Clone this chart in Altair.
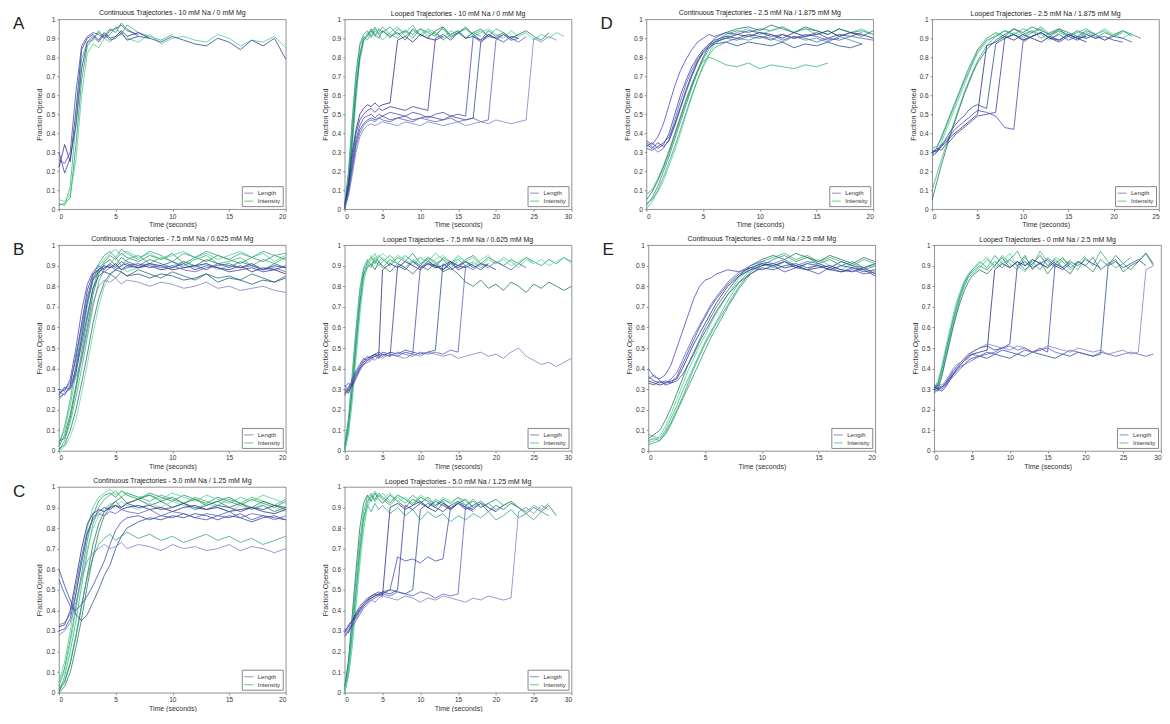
import altair as alt
import pandas as pd

FONT = "Liberation Sans"

# time grids (seconds)
TC = [0, 0.5, 1, 1.5, 2, 2.5, 3, 3.5, 4, 4.5, 5, 5.5, 6, 7, 8, 9, 10, 11, 12, 13, 14, 15, 16, 17, 18, 19, 20]
TL = [0, 0.5, 1, 1.5, 2, 2.5, 3, 3.5, 4, 4.5, 5, 6, 7, 8, 9, 10, 11, 12, 13, 14, 15, 16, 17, 18, 19, 20,
      21, 22, 23, 24, 25, 26, 27, 28, 29, 30]

Y_TICKS = [0, 0.1, 0.2, 0.3, 0.4, 0.5, 0.6, 0.7, 0.8, 0.9, 1]
LEGEND_LABELS = ["Length", "Intensity"]

# ---------- values (percent of opening) ----------
A_CONT_LEN = [
    [22, 34, 25, 52, 84, 90, 92, 89, 93, 90, 91, 94, 91, 93, 90],
    [30, 19, 27, 44, 74, 88, 91, 88, 92, 89, 90, 93, 89, 91, 90, 88, 91, 89, 87, 86, 90, 88, 84, 89, 86, 90, 79],
    [26, 24, 30, 62, 86, 91, 93, 92, 90, 94, 95, 97, 94, 92],
]
A_CONT_INT = [
    [2, 3, 6, 34, 68, 86, 90, 93, 91, 95, 93, 98, 95, 91],
    [3, 2, 12, 46, 79, 88, 89, 94, 90, 92, 96, 92, 97, 93, 91, 89, 92],
    [5, 4, 8, 26, 60, 82, 87, 85, 90, 88, 91, 92, 90, 88, 92, 87, 90, 91, 89, 88, 92, 90, 86, 89, 88, 91, 85],
]
B_CONT_LEN = [
    [28, 30, 33, 45, 62, 78, 86, 88, 90, 89, 91, 88, 90, 89, 91, 90, 88, 89, 90, 91, 89, 88, 90, 87, 89, 88, 86],
    [26, 28, 31, 40, 55, 72, 83, 87, 89, 90, 88, 90, 91, 89, 90, 88, 89, 91, 88, 90, 89, 87, 88, 89, 87, 88, 90],
    [30, 29, 35, 50, 68, 81, 87, 90, 88, 91, 89, 92, 90, 91, 89, 90, 92, 89, 90, 88, 91, 90, 89, 91, 88, 90, 89],
    [27, 31, 30, 38, 52, 66, 79, 85, 87, 86, 88, 87, 85, 86, 84, 86, 85, 83, 84, 86, 82, 84, 83, 81, 83, 82, 84],
    [29, 27, 32, 47, 60, 75, 84, 88, 87, 89, 90, 88, 89, 90, 91, 89, 90, 88, 87, 89, 90, 91, 89, 90, 88, 89, 87],
    [25, 28, 30, 36, 44, 58, 72, 80, 83, 82, 84, 81, 83, 82, 80, 82, 81, 79, 80, 82, 79, 80, 78, 79, 80, 78, 77],
]
B_CONT_INT = [
    [2, 8, 18, 32, 48, 64, 79, 88, 92, 95, 93, 96, 94, 92, 95, 93, 96, 91, 94, 92, 95, 93, 91, 94, 92, 95, 93],
    [0, 5, 14, 26, 40, 55, 70, 82, 89, 91, 94, 90, 93, 95, 91, 94, 92, 90, 93, 95, 91, 92, 94, 90, 93, 91, 94],
    [4, 10, 22, 38, 54, 70, 83, 90, 93, 96, 98, 95, 97, 94, 96, 93, 95, 97, 94, 96, 93, 95, 97, 94, 96, 92, 95],
    [1, 3, 10, 20, 33, 47, 62, 74, 82, 86, 84, 87, 85, 88, 86, 84, 87, 85, 83, 86, 84, 85, 83, 86, 84, 82, 85],
    [3, 12, 25, 42, 58, 73, 85, 91, 95, 97, 94, 98, 96, 93, 97, 95, 92, 96, 94, 97, 95, 93, 96, 94, 97, 95, 96],
    [0, 2, 7, 15, 28, 42, 57, 70, 80, 85, 88, 90, 87, 89, 91, 88, 90, 92, 89, 91, 88, 90, 89, 91, 88, 90, 89],
    [5, 6, 16, 30, 45, 60, 76, 86, 91, 93, 90, 94, 92, 90, 93, 91, 89, 92, 90, 93, 91, 89, 92, 90, 88, 91, 89],
]
C_CONT_LEN = [
    [32, 33, 40, 55, 70, 82, 87, 89, 88, 90, 91, 89, 90, 91, 89, 90, 88, 90, 91, 89, 90, 88, 89, 90, 88, 87, 89],
    [30, 31, 36, 48, 63, 77, 85, 88, 90, 89, 91, 90, 92, 90, 91, 89, 90, 92, 90, 89, 91, 90, 88, 90, 89, 91, 90],
    [55, 48, 42, 40, 43, 47, 52, 58, 64, 72, 79, 83, 85, 86, 84, 86, 85, 87, 85, 84, 86, 85, 87, 84, 86, 85, 84],
    [60, 52, 45, 38, 35, 38, 44, 50, 57, 62, 70, 76, 80, 83, 85, 84, 86, 85, 87, 86, 84, 86, 85, 83, 85, 86, 84],
    [33, 34, 38, 52, 66, 78, 84, 87, 86, 88, 87, 89, 88, 87, 89, 86, 88, 87, 85, 87, 86, 88, 85, 87, 86, 84, 86],
    [28, 30, 34, 44, 56, 64, 68, 70, 72, 70, 71, 73, 70, 72, 71, 69, 72, 70, 71, 69, 70, 72, 69, 71, 70, 68, 70],
]
C_CONT_INT = [
    [3, 12, 26, 42, 58, 74, 86, 93, 96, 97, 95, 98, 96, 94, 97, 95, 93, 96, 94, 92, 95, 93, 91, 94, 92, 90, 93],
    [0, 8, 20, 35, 52, 68, 82, 90, 94, 96, 98, 95, 97, 95, 93, 96, 94, 92, 95, 93, 91, 94, 92, 95, 93, 91, 94],
    [5, 15, 30, 48, 65, 80, 90, 95, 97, 99, 96, 98, 97, 95, 96, 94, 97, 95, 93, 96, 94, 92, 95, 93, 96, 94, 92],
    [1, 5, 14, 27, 42, 57, 72, 82, 88, 91, 93, 90, 92, 94, 91, 93, 90, 92, 89, 91, 93, 90, 92, 89, 91, 88, 90],
    [2, 6, 15, 28, 43, 56, 66, 72, 75, 77, 74, 76, 78, 75, 77, 74, 76, 73, 75, 77, 74, 76, 73, 75, 72, 74, 76],
    [4, 10, 24, 40, 56, 70, 80, 86, 89, 92, 90, 93, 91, 89, 92, 90, 93, 91, 89, 92, 90, 88, 91, 89, 92, 90, 88],
    [0, 3, 10, 22, 36, 52, 66, 78, 86, 90, 93, 95, 92, 94, 96, 93, 95, 92, 94, 91, 93, 95, 92, 90, 93, 91, 89],
]
D_CONT_LEN = [
    [34, 32, 35, 33, 36, 44, 53, 62, 70, 77, 83, 86, 88, 90, 92, 91, 93, 92, 90, 93, 91, 92, 94, 91, 93, 92, 90],
    [33, 35, 32, 34, 40, 50, 60, 68, 75, 80, 84, 87, 89, 91, 90, 92, 91, 89, 92, 90, 91, 93, 90, 92, 91, 93],
    [36, 34, 38, 45, 55, 65, 73, 79, 84, 88, 90, 92, 91, 93, 92, 94, 93, 91, 92, 90, 92, 91, 89, 90],
    [32, 31, 33, 35, 38, 45, 54, 63, 71, 78, 82, 85, 87, 88, 86, 88, 87, 86, 88, 85, 87, 86, 88, 86, 85, 87],
    [35, 33, 30, 32, 37, 47, 57, 66, 73, 79, 83, 86, 88, 90, 89, 91, 90, 92, 89, 91, 90, 88, 90, 89, 91, 90, 89],
]
D_CONT_INT = [
    [2, 6, 12, 20, 28, 37, 46, 55, 64, 72, 79, 84, 88, 92, 94, 93, 95, 94, 96, 93, 95, 94, 92, 95, 93, 94, 92],
    [8, 10, 16, 23, 31, 40, 49, 58, 66, 73, 78, 80, 79, 76, 75, 77, 74, 76, 75, 74, 76, 75, 77],
    [0, 4, 9, 15, 23, 31, 40, 50, 59, 68, 76, 82, 87, 91, 93, 95, 92, 94, 96, 93, 95, 92, 94, 91, 93, 95, 92],
    [5, 9, 15, 22, 30, 39, 48, 57, 65, 73, 80, 86, 90, 93, 95, 96, 94, 97, 95, 93, 96, 94, 92, 95, 93, 91, 94],
    [3, 5, 10, 17, 25, 33, 42, 51, 60, 68, 75, 81, 85, 88, 90, 89, 91, 90, 88, 91, 89, 90, 88, 91, 89, 87],
]
E_CONT_LEN = [
    [34, 33, 32, 33, 34, 35, 40, 46, 52, 57, 62, 67, 72, 80, 85, 88, 90, 91, 89, 90, 88, 89, 90, 88, 87, 89, 86],
    [36, 34, 33, 34, 33, 36, 42, 48, 54, 60, 65, 70, 74, 81, 86, 89, 91, 90, 92, 89, 91, 90, 88, 90, 89, 87, 88],
    [40, 36, 35, 37, 42, 50, 58, 66, 74, 80, 83, 84, 86, 88, 87, 89, 88, 90, 87, 89, 88, 86, 89, 87, 88, 86, 87],
    [33, 32, 34, 32, 33, 34, 37, 42, 47, 53, 58, 63, 68, 76, 82, 86, 89, 88, 90, 91, 89, 90, 88, 87, 89, 88, 85],
    [35, 37, 34, 33, 35, 38, 44, 50, 56, 61, 66, 71, 75, 82, 87, 90, 92, 91, 93, 90, 92, 91, 89, 92, 90, 89, 91],
]
E_CONT_INT = [
    [5, 6, 5, 8, 13, 19, 25, 31, 37, 43, 49, 55, 60, 70, 79, 86, 90, 93, 95, 92, 94, 91, 93, 90, 92, 89, 91],
    [8, 7, 6, 10, 16, 22, 29, 35, 41, 47, 53, 58, 63, 73, 82, 88, 92, 94, 96, 93, 95, 92, 94, 92, 90, 93, 91],
    [4, 5, 7, 12, 18, 25, 32, 39, 45, 51, 56, 62, 67, 76, 84, 89, 91, 90, 92, 89, 91, 93, 90, 88, 91, 89, 90],
    [6, 8, 10, 15, 21, 28, 35, 42, 48, 54, 60, 65, 70, 78, 85, 90, 93, 95, 93, 96, 94, 92, 95, 93, 91, 94, 92],
    [3, 4, 5, 9, 14, 20, 26, 33, 40, 46, 52, 57, 62, 71, 80, 87, 91, 89, 92, 90, 88, 91, 89, 92, 90, 88, 90],
]

A_LOOP_LEN = [
    [2, 14, 30, 42, 50, 53, 55, 54, 56, 54, 55, 56, 89, 91, 88, 92, 90, 89, 91],
    [0, 12, 27, 40, 47, 50, 52, 53, 51, 53, 52, 54, 53, 52, 54, 53, 52, 90, 92, 89, 93, 90, 91, 88, 92, 90],
    [1, 10, 24, 37, 44, 48, 49, 50, 48, 50, 49, 51, 50, 49, 51, 50, 48, 50, 51, 49, 50, 49, 91, 89, 92, 90, 88, 91, 90],
    [0, 9, 22, 35, 42, 45, 47, 48, 47, 48, 49, 47, 48, 49, 47, 48, 49, 48, 47, 49, 48, 47, 48, 88, 91, 90, 92, 89, 90],
    [1, 8, 20, 33, 40, 44, 46, 47, 46, 48, 47, 46, 48, 47, 46, 48, 47, 46, 47, 48, 46, 47, 48, 46, 47, 89, 92, 90, 88, 91],
    [0, 7, 18, 30, 38, 42, 44, 45, 44, 45, 46, 45, 44, 46, 45, 44, 46, 45, 44, 45, 46, 44, 45, 46, 45, 47, 46, 45, 46, 47, 90, 88, 91, 89],
]
A_LOOP_INT = [
    [0, 15, 40, 65, 82, 90, 92, 94, 91, 95, 93, 96, 92, 94, 90, 95, 93, 91, 96, 92, 94, 90, 93, 95, 91],
    [2, 18, 45, 70, 86, 91, 89, 93, 96, 92, 94, 90, 95, 93, 97, 91, 94, 92, 95, 90, 93, 96, 92, 94, 91, 95, 93, 90, 92],
    [0, 10, 32, 58, 78, 88, 93, 90, 94, 92, 89, 93, 96, 91, 94, 92, 95, 93, 90, 94, 92, 96, 91, 93, 95, 92, 90, 94, 91, 93, 89, 92, 90, 93, 91],
    [1, 12, 36, 62, 80, 89, 91, 95, 92, 90, 94, 91, 93, 89, 95, 92, 90, 94, 96, 91, 93, 95, 92, 89, 94, 91, 93, 90, 92, 94, 91, 89, 93],
    [3, 20, 48, 72, 87, 92, 94, 91, 95, 93, 96, 92, 90, 94, 92, 95, 91, 93, 89, 92, 94, 90, 93, 91],
]
B_LOOP_LEN = [
    [30, 28, 33, 37, 40, 43, 45, 46, 47, 46, 88, 91, 89, 92, 90, 88, 91, 89, 90, 92, 88, 90],
    [28, 31, 34, 38, 41, 44, 46, 45, 47, 48, 47, 46, 90, 88, 92, 89, 91, 90, 88, 92, 90, 89, 91],
    [32, 29, 35, 39, 42, 45, 44, 46, 47, 45, 48, 47, 46, 48, 47, 89, 92, 90, 88, 91, 89, 92, 90, 88, 91],
    [27, 30, 32, 36, 40, 42, 44, 45, 46, 47, 46, 48, 47, 49, 48, 47, 48, 49, 91, 88, 90, 92, 89, 91, 90, 88],
    [31, 33, 31, 35, 39, 42, 43, 44, 46, 45, 47, 46, 48, 47, 46, 48, 47, 48, 47, 49, 48, 90, 88, 91, 89, 92, 90, 88, 91, 89],
    [29, 30, 34, 37, 40, 42, 44, 45, 44, 46, 45, 47, 46, 45, 47, 46, 48, 47, 46, 47, 45, 46, 47, 48, 46, 47, 45, 48, 50, 46, 44, 42, 43, 41, 43, 45],
]
B_LOOP_INT = [
    [0, 10, 28, 50, 70, 85, 92, 94, 91, 95, 93, 90, 94, 92, 96, 91, 93, 89, 94, 92, 90, 93, 95, 91, 94, 92, 90, 93, 91, 94, 92, 90, 93, 91, 94, 92],
    [2, 14, 34, 56, 76, 88, 91, 89, 93, 90, 92, 95, 91, 89, 93, 90, 94, 92, 88, 91, 93, 90, 92, 89, 91],
    [0, 8, 24, 45, 66, 82, 90, 93, 96, 92, 94, 91, 95, 93, 90, 94, 92, 96, 93, 91, 95, 92, 94, 90, 93, 91, 94, 92, 89, 93, 91],
    [1, 12, 30, 52, 72, 86, 89, 91, 88, 92, 90, 87, 91, 89, 86, 90, 88, 91, 87, 89, 86, 82, 80, 83, 79, 81, 78, 82, 80, 77, 81, 79, 82, 80, 78, 80],
    [3, 16, 38, 60, 79, 89, 93, 90, 94, 92, 89, 93, 91, 95, 92, 90, 94, 91, 93, 89, 92],
    [0, 9, 26, 48, 68, 84, 91, 95, 92, 94, 96, 93, 91, 95, 92, 94, 90, 93, 95, 91, 94, 92, 90, 93, 95, 91, 93, 90, 92, 94, 91, 93, 90, 92, 94, 91],
]
C_LOOP_LEN = [
    [30, 32, 35, 38, 41, 43, 45, 46, 47, 48, 47, 90, 92, 89, 91, 93, 90, 88, 92, 90],
    [28, 30, 33, 37, 40, 42, 44, 46, 47, 48, 49, 48, 50, 91, 89, 92, 90, 93, 91, 89, 92, 90, 88],
    [31, 29, 34, 37, 40, 43, 45, 47, 48, 47, 49, 50, 66, 64, 65, 63, 66, 64, 65, 90, 92, 89, 91, 93, 90, 88],
    [29, 33, 35, 39, 42, 44, 46, 47, 48, 49, 48, 50, 49, 48, 50, 89, 92, 90, 88, 91, 93, 90, 89],
    [27, 30, 32, 35, 38, 41, 43, 45, 46, 47, 48, 47, 49, 48, 47, 49, 48, 46, 48, 47, 48, 91, 89, 92, 90, 88, 91],
    [30, 31, 34, 36, 39, 42, 44, 45, 44, 46, 47, 46, 45, 47, 46, 44, 46, 45, 47, 46, 45, 44, 46, 45, 47, 46, 45, 46, 88, 90, 87, 91, 89],
]
C_LOOP_INT = [
    [0, 10, 28, 48, 68, 84, 93, 96, 94, 97, 95, 92, 96, 94, 91, 95, 93, 90, 94, 92, 95, 91, 93, 90, 92, 94, 91, 93, 90],
    [2, 14, 34, 55, 74, 88, 95, 97, 93, 96, 94, 91, 95, 92, 96, 93, 90, 94, 92, 89, 93, 91, 94, 90, 92, 89, 91, 93, 90, 88, 91, 89, 92],
    [0, 8, 22, 42, 62, 79, 90, 95, 98, 95, 97, 93, 96, 94, 92, 95, 93, 91, 94, 92, 95, 93, 90],
    [3, 16, 38, 60, 80, 92, 96, 93, 97, 94, 92, 96, 93, 90, 94, 92, 95, 91, 93, 89, 92, 94, 90, 92, 88, 91, 89, 92, 90, 87, 90, 88, 91, 86],
    [1, 12, 30, 50, 70, 85, 91, 88, 92, 89, 91, 87, 90, 86, 89, 84, 88, 85, 87, 83, 86, 84, 87, 85, 88, 84, 86, 89, 85, 87, 84, 88, 86],
    [0, 9, 25, 45, 65, 82, 92, 95, 93, 96, 94, 97, 93, 95, 92, 96, 94, 91, 95, 93],
]
D_LOOP_LEN = [
    [30, 31, 33, 35, 38, 40, 42, 44, 46, 48, 50, 86, 88, 91, 89, 92, 90, 88, 91, 89, 92, 90, 88],
    [29, 32, 31, 34, 36, 39, 41, 43, 45, 47, 49, 50, 51, 90, 92, 89, 91, 93, 90, 88, 91, 89, 92, 90, 91, 89, 88],
    [31, 30, 34, 36, 39, 42, 44, 46, 48, 50, 52, 51, 49, 43, 42, 88, 91, 93, 90, 92, 89, 91, 90, 92, 89, 91, 90, 88],
    [28, 30, 33, 37, 41, 44, 47, 49, 52, 54, 55, 53, 87, 90, 92, 89, 91, 93, 90, 89, 92, 90, 91],
]
D_LOOP_INT = [
    [30, 32, 38, 44, 50, 56, 62, 68, 74, 79, 84, 90, 93, 91, 95, 92, 94, 90, 93, 95, 91, 94, 92, 90, 93, 91, 94, 92, 90],
    [10, 18, 26, 33, 40, 47, 54, 61, 67, 73, 78, 86, 91, 94, 92, 95, 93, 96, 92, 94, 91, 93, 95, 92, 94, 91, 93],
    [28, 30, 35, 41, 47, 53, 59, 65, 71, 77, 82, 88, 92, 90, 93, 91, 94, 92, 89, 93, 91, 94, 90, 92, 95, 92, 90, 93],
    [5, 14, 23, 31, 39, 46, 53, 60, 66, 72, 77, 84, 89, 92, 95, 93, 96, 94, 92, 95, 93, 91, 94, 92],
    [32, 33, 37, 43, 49, 55, 61, 67, 72, 78, 83, 89, 91, 94, 92, 90, 93, 95, 91, 94, 92, 90, 93, 91, 89, 92, 94, 91],
]
E_LOOP_LEN = [
    [31, 30, 29, 31, 34, 37, 40, 42, 44, 46, 47, 48, 49, 88, 91, 89, 92, 90, 93, 91, 89, 92],
    [30, 32, 31, 33, 36, 39, 41, 43, 45, 47, 48, 50, 51, 49, 50, 52, 90, 92, 89, 91, 93, 90, 88, 91],
    [29, 31, 30, 32, 35, 38, 40, 42, 44, 45, 47, 46, 48, 47, 49, 48, 47, 49, 48, 50, 48, 91, 89, 92, 90, 93, 91, 89],
    [32, 30, 31, 33, 35, 37, 39, 41, 42, 44, 45, 46, 45, 47, 46, 45, 47, 46, 48, 47, 46, 45, 47, 46, 48, 47, 46, 47, 90, 92, 89, 91, 93, 90],
    [30, 29, 31, 32, 34, 36, 38, 40, 42, 43, 44, 46, 47, 48, 50, 51, 49, 50, 48, 49, 50, 48, 47, 49, 48, 47, 46, 48, 47, 46, 47, 48, 47, 46, 47],
    [31, 33, 32, 34, 37, 40, 42, 43, 45, 46, 48, 50, 52, 51, 50, 49, 51, 50, 48, 49, 51, 50, 49, 48, 50, 49, 48, 49, 47, 48, 49, 47, 48, 88, 90],
]
E_LOOP_INT = [
    [30, 33, 40, 48, 56, 64, 71, 77, 82, 85, 87, 90, 88, 92, 89, 93, 90, 95, 88, 92, 86, 91, 94, 89, 92, 90, 87, 93, 90, 95, 91, 88, 92, 96, 90],
    [29, 31, 37, 45, 53, 61, 68, 75, 80, 84, 86, 89, 93, 90, 95, 91, 88, 94, 90, 97, 92, 89, 93, 91, 88, 94, 90, 97, 92, 89, 91, 94],
    [31, 34, 41, 50, 58, 66, 73, 78, 83, 86, 88, 91, 94, 89, 92, 96, 90, 87, 93, 91, 89, 94, 92, 88, 91, 95],
    [28, 30, 36, 44, 52, 60, 67, 73, 78, 82, 85, 88, 86, 90, 94, 89, 92, 88, 91, 95, 90, 93, 89, 86, 92, 90, 94, 88, 91, 93, 87, 90, 92, 96, 91],
    [30, 32, 39, 47, 55, 63, 70, 76, 81, 85, 88, 92, 89, 95, 91, 93, 97, 90, 92, 88, 94, 91, 89, 93],
]

LEN_COLORS = ["#23237a", "#3535a0", "#4343b8", "#27478f", "#5a5ac0", "#7b7bc4", "#30306e"]
INT_COLORS = ["#1f8f5f", "#2fb46a", "#45d085", "#1d6e66", "#2aa380", "#5fd99a", "#178050", "#3fbfa0"]
LEGEND_COLORS = ["#7a7ab8", "#4cbf80"]

LEN_KEYS = [f"L{i}" for i in range(len(LEN_COLORS))]
INT_KEYS = [f"I{i}" for i in range(len(INT_COLORS))]
COLOR_DOMAIN = INT_KEYS + LEN_KEYS + LEGEND_LABELS
COLOR_RANGE = INT_COLORS + LEN_COLORS + LEGEND_COLORS

W = 227


def frame(grid, lens, ints):
    rows = []
    for fam, series in (("I", ints), ("L", lens)):
        for j, tr in enumerate(series):
            for k, (t, v) in enumerate(zip(grid, tr)):
                rows.append({"traj": f"{fam}{j}", "shade": f"{fam}{j}", "t": t,
                             "y": v / 100.0, "k": k})
    return pd.DataFrame(rows)


def panel(title, grid, xmax, lens, ints, height, letter=None):
    df = frame(grid, lens, ints)
    lines = alt.Chart(df).mark_line(strokeWidth=0.9, opacity=0.85).encode(
        x=alt.X("t:Q", scale=alt.Scale(domain=[0, xmax], nice=False),
                axis=alt.Axis(values=list(range(0, xmax + 1, 5)), title="Time (seconds)",
                              grid=False, labelFontSize=6.5, titleFontSize=7, titleFontWeight="normal",
                              tickSize=2, labelPadding=2, titlePadding=1, domain=False,
                              labelFont=FONT, titleFont=FONT, labelColor="#333", titleColor="#333")),
        y=alt.Y("y:Q", scale=alt.Scale(domain=[0, 1], nice=False),
                axis=alt.Axis(values=Y_TICKS, format="~g", title="Fraction Opened",
                              grid=False, labelFontSize=6.5, titleFontSize=7, titleFontWeight="normal",
                              tickSize=2, labelPadding=2, titlePadding=3, domain=False,
                              labelFont=FONT, titleFont=FONT, labelColor="#333", titleColor="#333")),
        color=alt.Color("shade:N", scale=alt.Scale(domain=COLOR_DOMAIN, range=COLOR_RANGE),
                        legend=alt.Legend(values=LEGEND_LABELS, orient="bottom-right", title=None,
                                          symbolType="stroke", symbolStrokeWidth=1, symbolSize=80,
                                          labelFontSize=6, labelFont=FONT, labelColor="#333",
                                          padding=2, rowPadding=0, offset=3,
                                          strokeColor="#888", fillColor="white")),
        detail="traj:N",
        order="k:Q",
    )
    layers = [lines]
    if letter:
        lab = alt.Chart(pd.DataFrame({"lab": [letter]})).mark_text(
            fontSize=17, font=FONT, align="left", baseline="top", color="#222"
        ).encode(text="lab:N", x=alt.value(-46), y=alt.value(-3))
        layers.append(lab)
    return alt.layer(*layers).properties(
        width=W, height=height,
        title=alt.TitleParams(title, fontSize=7, fontWeight="normal", font=FONT,
                              offset=-1, frame="group", color="#222"))


def pair(letter, cond, lc, ic, ll, li, height, loop_max=30):
    cont = panel(f"Continuous Trajectories - {cond}", TC, 20, lc, ic, height, letter)
    loop = panel(f"Looped Trajectories - {cond}", TL, loop_max, ll, li, height)
    return alt.hconcat(cont, loop, spacing=32).resolve_scale(color="independent").resolve_legend(color="independent")


H_ROW1, H_ROW2, H_ROW3 = 190, 206, 206

pA = pair("A", "10 mM Na / 0 mM Mg", A_CONT_LEN, A_CONT_INT, A_LOOP_LEN, A_LOOP_INT, H_ROW1)
pD = pair("D", "2.5 mM Na / 1.875 mM Mg", D_CONT_LEN, D_CONT_INT, D_LOOP_LEN, D_LOOP_INT, H_ROW1, loop_max=25)
pB = pair("B", "7.5 mM Na / 0.625 mM Mg", B_CONT_LEN, B_CONT_INT, B_LOOP_LEN, B_LOOP_INT, H_ROW2)
pE = pair("E", "0 mM Na / 2.5 mM Mg", E_CONT_LEN, E_CONT_INT, E_LOOP_LEN, E_LOOP_INT, H_ROW2)
pC = pair("C", "5.0 mM Na / 1.25 mM Mg", C_CONT_LEN, C_CONT_INT, C_LOOP_LEN, C_LOOP_INT, H_ROW3)

row1 = alt.hconcat(pA, pD, spacing=27).resolve_scale(color="independent").resolve_legend(color="independent")
row2 = alt.hconcat(pB, pE, spacing=27).resolve_scale(color="independent").resolve_legend(color="independent")

chart = alt.vconcat(row1, row2, pC, spacing=6).resolve_scale(color="independent").resolve_legend(
    color="independent"
).properties(
    padding={"left": 4, "top": 0, "right": 0, "bottom": 0},
    background="white",
).configure_view(stroke="#777", strokeWidth=0.8)

chart.save("out.html", embed_options={"renderer": "svg", "actions": False})
